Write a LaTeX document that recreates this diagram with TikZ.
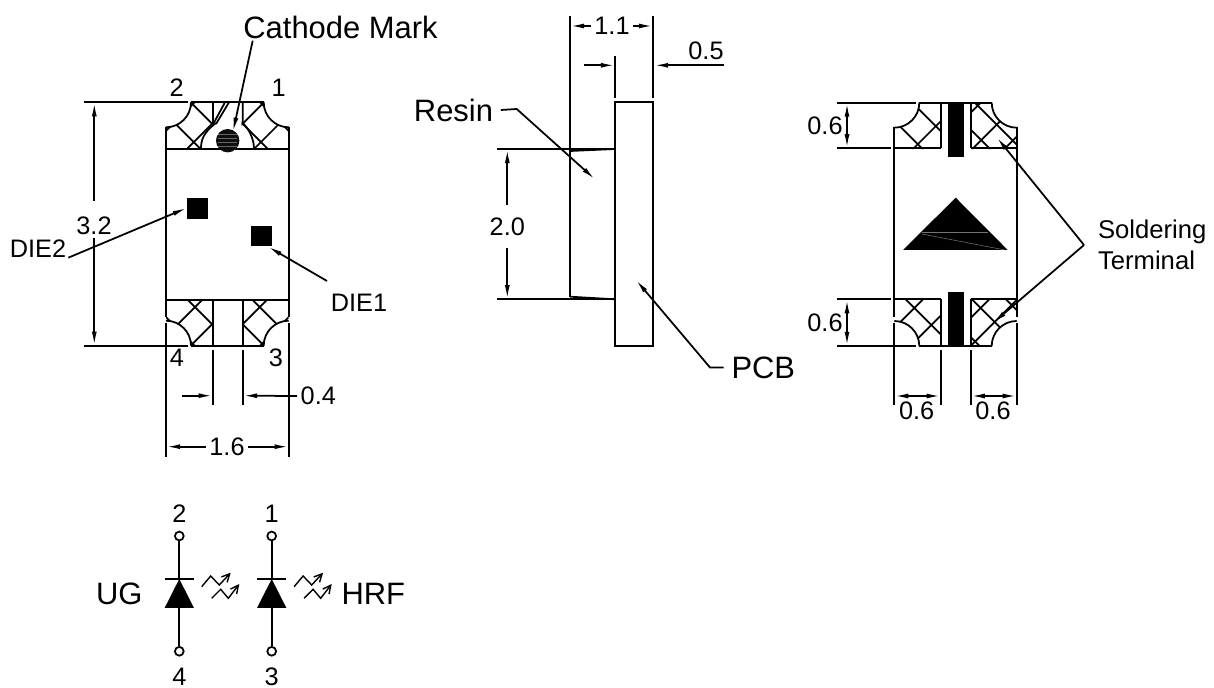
\documentclass[tikz,border=0pt]{standalone}
\usepackage{fontspec}
\setmainfont{Liberation Sans}
\usetikzlibrary{arrows.meta,calc}

% solder pad: x, y, xscale, yscale, width, sum lines, difference lines
\newcommand{\hatchpad}[7]{
  \begin{scope}[shift={(#1,#2)},xscale=#3,yscale=#4]
    \begin{scope}
      \clip (25,0) -- (#5,0) -- (#5,46.5) -- (0,46.5) -- (0,25) .. controls (13.8,25) and (25,13.8) .. (25,0) -- cycle;
      \foreach \sm in {#6} \draw (\sm+60,-60) -- (-60,\sm+60);
      \foreach \df in {#7} \draw (-60,\df-60) -- (60,\df+60);
    \end{scope}
    \draw (0,25) .. controls (13.8,25) and (25,13.8) .. (25,0);
  \end{scope}
}

\begin{document}
\begin{tikzpicture}[x=0.02cm,y=-0.02cm,line width=1pt,
  biglabel/.style={font=\fontsize{17.6}{17.6}\selectfont,inner sep=4pt},
  dimlabel/.style={font=\fontsize{14.4}{14.4}\selectfont,inner sep=1.5pt},
  leader/.style={-{Latex[length=8pt,width=2.8pt]}},
  bothway/.style={{Latex[length=8pt,width=2.8pt]}-{Latex[length=8pt,width=2.8pt]}},
  lightarrow/.style={line width=0.8pt,-{Straight Barb[length=4.5pt,width=4.5pt]}},
  termdot/.style={circle,draw,fill=white,minimum size=5pt,inner sep=0pt}]
  \useasboundingbox (0,0) rectangle (1214,688);

  % Front view
  \draw (166,127) -- (166,317);
  \draw (166,323) -- (166,456.7);
  \draw (288.7,127) -- (288.7,317);
  \draw (288.7,323) -- (288.7,456.7);
  \draw (166,149) -- (288.7,149);
  \draw (166,300) -- (288.7,300);
  \draw (190.7,102.3) -- (264,102.3);
  \draw (190.7,345.7) -- (264,345.7);
  \hatchpad{166}{102.3}{1}{1}{47}{28.5,67.5}{12,-24.7}
  \hatchpad{288.7}{102.3}{-1}{1}{47}{28.5,67.5}{12,-24.7}
  \hatchpad{166}{345.7}{1}{-1}{47}{28.5,67.5}{9.5,-24.7}
  \hatchpad{288.7}{345.7}{-1}{-1}{46}{28.5,67.5}{9.5,-24.7}

  % Cathode side of the top pads
  \draw (212.7,102.3) -- (212.7,125);
  \draw (212.7,125) -- (225,102.3);
  \draw (216,124) -- (229,102.3);
  \draw (216,123) .. controls (203,133) and (201,140) .. (201,149);
  \draw (242.7,102.3) -- (242.7,123) .. controls (250,130) and (254,140) .. (254,149);
  \fill[black!95] (227.7,140.7) circle (11.7);
  \foreach \yy in {134,138,142,146} \draw[black!60,line width=0.25pt] (218,\yy) -- (237,\yy);

  % Bottom pad edges
  \draw (212.7,300) -- (212.7,345.7);
  \draw (243,300) -- (243,345.7);
  \draw (212.7,350.5) -- (212.7,405);
  \draw (243,350.5) -- (243,405);

  % Dies
  \fill (186.7,197.7) rectangle (207.7,218.7);
  \fill (250.7,226) rectangle (272,246.3);

  % Front view dimensions
  \draw (84.3,102.3) -- (187.7,102.3);
  \draw (84.3,345.7) -- (187.7,345.7);
  \node[dimlabel] (dimH) at (94,226) {3.2};
  \draw[leader] (94.3,201) -- (94.3,102.3);
  \draw[leader] (94.3,238) -- (94.3,345.7);
  \node[dimlabel] (dimW) at (227,446.7) {1.6};
  \draw[leader] (dimW.west) -- (166,446.7);
  \draw[leader] (dimW.east) -- (288.7,446.7);
  \node[dimlabel] (dimGap) at (318.3,396) {0.4};
  \draw[leader] (182,395.7) -- (212.7,395.7);
  \draw[leader] (dimGap.west) -- (243,395.7);

  % Pin numbers
  \node[dimlabel] (pinB) at (176.7,87.7) {2};
  \node[dimlabel] (pinA) at (278.7,87.7) {1};
  \node[dimlabel] (pinD) at (177,358) {4};
  \node[dimlabel] (pinC) at (276,358) {3};

  % Front view labels
  \node[biglabel] (cathode) at (340.5,27) {Cathode Mark};
  \draw[leader] (252.7,40.7) -- (233,131.7);
  \node[dimlabel] (dieB) at (38,249) {DIE2};
  \draw[leader] (68.3,257.7) -- (186.7,208);
  \node[dimlabel] (dieA) at (359,303) {DIE1};
  \draw[leader] (327,281) -- (268,246.7);

  % Side view
  \draw (615,102.3) rectangle (653,345.7);
  \draw (570,16) -- (570,296.7);
  \draw (570,151) -- (615,149);
  \draw (570,296.7) -- (615,299.3);
  \draw (653,16) -- (653,98);
  \draw (615,56) -- (615,98);
  \draw (497,149) -- (615,149);
  \draw (497,299.3) -- (615,299.3);

  % Side view dimensions
  \node[dimlabel] (dimDepth) at (612,26) {1.1};
  \draw[leader] (dimDepth.west) -- (570,26);
  \draw[leader] (dimDepth.east) -- (653,26);
  \node[dimlabel] (dimBoard) at (706,51) {0.5};
  \draw[leader] (584,65.3) -- (615,65.3);
  \draw[leader] (724,65.3) -- (654,65.3);
  \node[dimlabel] (dimLens) at (507.3,227) {2.0};
  \draw[leader] (507.3,205) -- (507.3,149);
  \draw[leader] (507.3,248) -- (507.3,299.3);

  % Side view labels
  \node[biglabel] (resin) at (453.5,110) {Resin};
  \draw[leader] (resin.east) -- (516.7,109) -- (595,179.3);
  \node[biglabel] (pcb) at (763.3,367.5) {PCB};
  \draw[leader] (pcb.west) -- (710,367.5) -- (636,280);

  % Bottom view
  \draw (894.3,127) -- (894.3,317);
  \draw (894.3,323) -- (894.3,405);
  \draw (1016.7,127) -- (1016.7,317);
  \draw (1016.7,323) -- (1016.7,405);
  \draw (894.3,148.3) -- (940.7,148.3);
  \draw (970.7,148.3) -- (1016.7,148.3);
  \draw (894.3,299.3) -- (940.7,299.3);
  \draw (970.7,299.3) -- (1016.7,299.3);
  \draw (919,102.7) -- (992,102.7);
  \draw (919,346) -- (992,346);
  \draw (940.7,102.7) -- (940.7,148.3);
  \draw (970.7,102.7) -- (970.7,148.3);
  \draw (940.7,299.3) -- (940.7,346);
  \draw (970.7,299.3) -- (970.7,346);
  \draw (940.7,350.5) -- (940.7,405);
  \draw (970.7,350.5) -- (970.7,405);
  \hatchpad{894.3}{102.7}{1}{1}{46.4}{24,65}{18,-18}
  \hatchpad{1016.7}{102.7}{-1}{1}{46}{42,73}{2,-36,34}
  \hatchpad{894.3}{346}{1}{-1}{46.4}{24,58}{18,-16}
  \hatchpad{1016.7}{346}{-1}{-1}{46}{46,74}{2,36,-37}
  \fill (947.7,102.7) rectangle (964,156.7);
  \fill (947.7,291.7) rectangle (964,346);
  \fill (955.7,197.7) -- (1007.7,250) -- (903,250) -- cycle;
  \draw[black!55,line width=0.3pt] (922,232) -- (988,232);
  \draw[black!55,line width=0.3pt] (922,234) -- (1005,250);

  % Bottom view dimensions
  \draw (836.7,102.7) -- (915.7,102.7);
  \draw (836.7,148.3) -- (890.7,148.3);
  \draw (836.7,299.3) -- (891,299.3);
  \draw (836.7,346) -- (915.7,346);
  \node[dimlabel] (dimTop) at (825,126) {0.6};
  \draw[bothway] (847,102.7) -- (847,148.3);
  \node[dimlabel] (dimBot) at (825,323) {0.6};
  \draw[bothway] (847,299.3) -- (847,346);
  \node[dimlabel] (dimLeft) at (916.7,410.7) {0.6};
  \draw[bothway] (894.3,396) -- (940.7,396);
  \node[dimlabel] (dimRight) at (993,410.7) {0.6};
  \draw[bothway] (970.7,396) -- (1016.7,396);

  % Terminal label
  \node[dimlabel,align=left,anchor=west,font=\fontsize{14.6}{17.6}\selectfont] (terminal) at (1094.5,244.5) {Soldering\\Terminal};
  \coordinate (split) at (1084,245);
  \draw[leader] (split) -- (996.7,137.3);
  \draw[leader] (split) -- (993,323);

  % Circuit symbols
  \foreach \dx/\up/\dn in {179.3/2/4,271.7/1/3} {
    \node[dimlabel] (num\up) at (\dx,514) {\up};
    \node[dimlabel] (num\dn) at (\dx,676.5) {\dn};
    \node[termdot] (term\up) at (\dx,536) {};
    \node[termdot] (term\dn) at (\dx,651.3) {};
    \draw (term\up) -- (\dx,579);
    \draw (term\dn) -- (\dx,608);
    \draw (\dx-14.7,579) -- (\dx+14.7,579);
    \fill (\dx,579) -- (\dx+14.7,608) -- (\dx-14.7,608) -- cycle;
    \begin{scope}[shift={(\dx-179.3,0)}]
      \draw[lightarrow] (201.7,586.7) -- (210.7,576) -- (219.3,585) -- (230.7,572.7);
      \draw[lightarrow] (211.7,598.3) -- (220.7,589.3) -- (228.3,598.3) -- (239.3,584);
    \end{scope}
  }
  \node[biglabel] (ug) at (119.3,594) {UG};
  \node[biglabel] (hrf) at (373.3,594) {HRF};
\end{tikzpicture}
\end{document}
